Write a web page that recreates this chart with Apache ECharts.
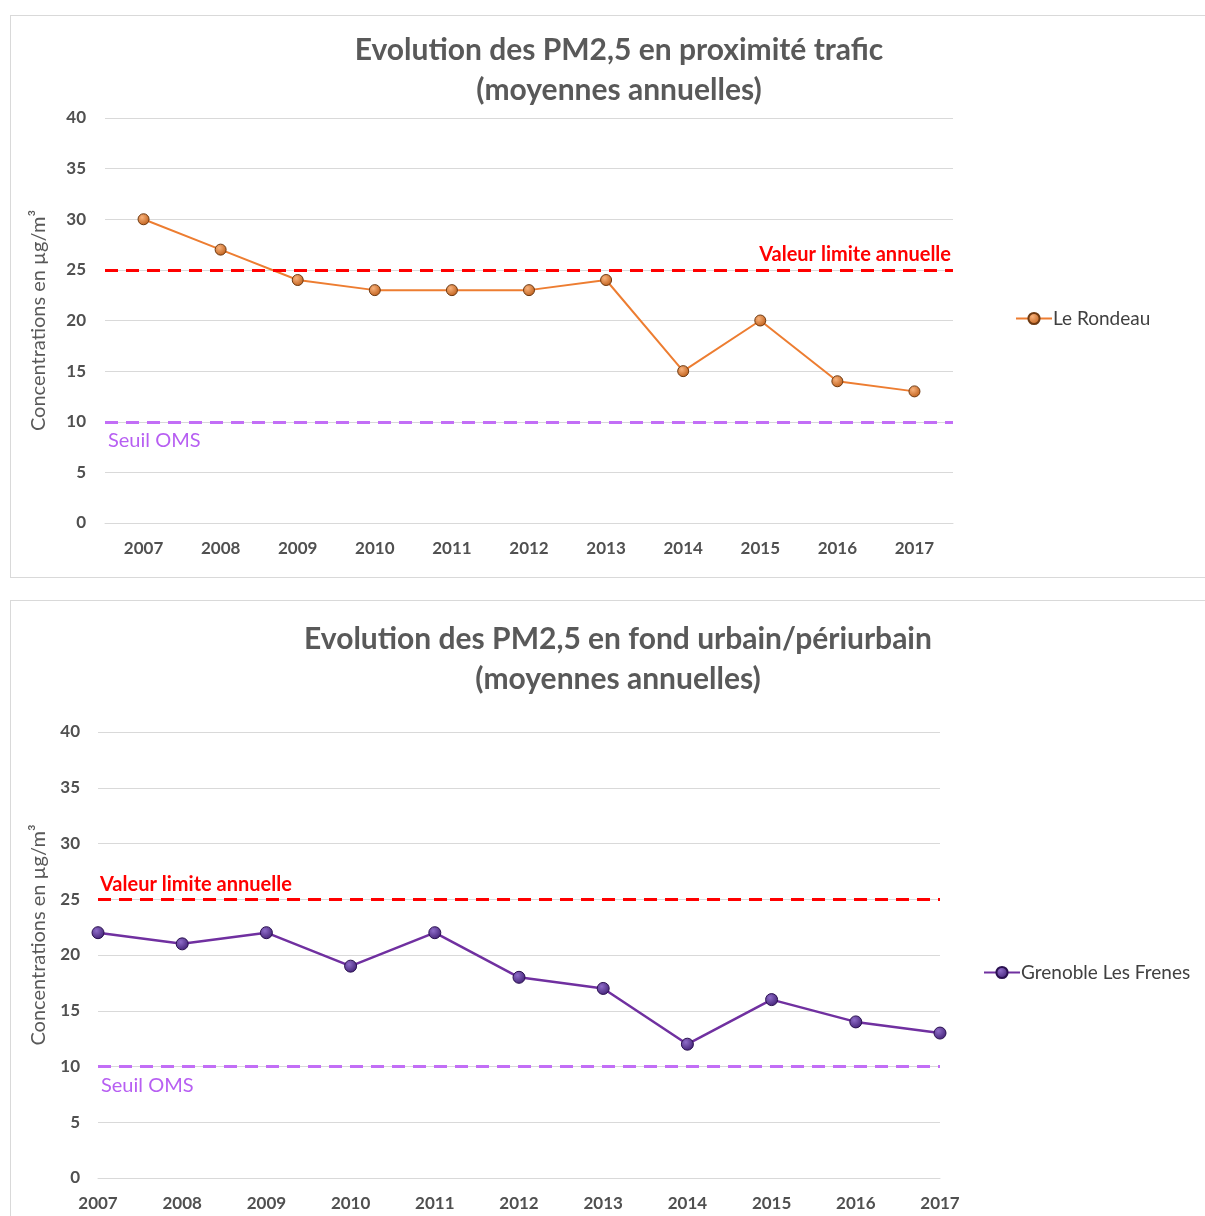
<!DOCTYPE html>
<html>
<head>
<meta charset="utf-8">
<script src="https://cdn.jsdelivr.net/npm/echarts@6/dist/echarts.min.js"></script>
<style>
  html, body { margin: 0; padding: 0; background: #ffffff; overflow: hidden; }
  body { width: 1205px; height: 1216px; position: relative; }
  .panel { position: absolute; box-sizing: border-box; border: 1px solid #d9d9d9; background: #fff; }
  #trafic { left: 10px; top: 15px; width: 1200px; height: 563px; }
  #urbain { left: 10px; top: 600px; width: 1200px; height: 700px; }
</style>
</head>
<body>
<div id="trafic" class="panel"></div>
<div id="urbain" class="panel"></div>
<script>
// Years on the category axis
const years = ['2007', '2008', '2009', '2010', '2011', '2012', '2013', '2014', '2015', '2016', '2017'];

// Annual PM2.5 means (µg/m³)
const rondeauValues = [30, 27, 24, 23, 23, 23, 24, 15, 20, 14, 13];
const frenesValues = [22, 21, 22, 19, 22, 18, 17, 12, 16, 14, 13];

// Reference thresholds (µg/m³)
const limitValue = 25;   // valeur limite annuelle
const whoThreshold = 10; // seuil OMS

// Value axis range
const yMin = 0;
const yMax = 40;
const yStep = 5;

const FONT = 'Lato, "Open Sans", sans-serif';
const TEXT = '#595959';

function buildOption(cfg) {
  return {
    backgroundColor: '#ffffff',
    animation: false,
    title: {
      text: cfg.title,
      left: cfg.titleX,
      top: cfg.titleTop,
      textAlign: 'center',
      textStyle: {
        fontFamily: FONT, fontSize: 30, fontWeight: 'bold',
        color: TEXT, lineHeight: 40, align: 'center'
      }
    },
    legend: {
      left: cfg.legendLeft,
      top: cfg.legendTop,
      orient: 'vertical',
      itemWidth: 36,
      itemHeight: 14,
      textStyle: { fontFamily: FONT, fontSize: 19, color: '#404040', padding: [0, 0, 0, -4] },
      data: [cfg.seriesName]
    },
    grid: {
      left: cfg.grid.left, top: cfg.grid.top,
      width: cfg.grid.width, height: cfg.grid.height
    },
    xAxis: {
      type: 'category',
      data: years,
      boundaryGap: cfg.boundaryGap,
      axisLine: { show: true, lineStyle: { color: '#d9d9d9', width: 1 } },
      axisTick: { show: false },
      axisLabel: {
        fontFamily: FONT, fontSize: 17, fontWeight: 'bold', color: '#505050',
        margin: cfg.xLabelMargin, interval: 0
      }
    },
    yAxis: {
      type: 'value',
      min: yMin, max: yMax, interval: yStep,
      name: 'Concentrations en µg/m³',
      nameLocation: 'middle',
      nameGap: cfg.nameGap,
      nameTextStyle: {
        fontFamily: FONT, fontSize: 20, color: TEXT,
        padding: cfg.namePadding
      },
      axisLine: { show: false },
      axisTick: { show: false },
      axisLabel: {
        fontFamily: FONT, fontSize: 17, fontWeight: 'bold', color: '#505050',
        margin: cfg.yLabelMargin
      },
      splitLine: { lineStyle: { color: '#d9d9d9', width: 1 } }
    },
    series: [{
      name: cfg.seriesName,
      type: 'line',
      data: cfg.values,
      symbol: 'circle',
      symbolSize: cfg.symbolSize,
      lineStyle: { color: cfg.lineColor, width: cfg.lineWidth },
      itemStyle: {
        color: {
          type: 'radial', x: 0.38, y: 0.35, r: 0.75,
          colorStops: [
            { offset: 0, color: cfg.markerLight },
            { offset: 1, color: cfg.markerDark }
          ]
        },
        borderColor: cfg.markerBorder,
        borderWidth: 1
      },
      markLine: {
        silent: true,
        symbol: 'none',
        animation: false,
        data: [
          {
            yAxis: limitValue,
            lineStyle: { color: '#ff0000', type: [13, 8], width: 3 },
            label: {
              show: true,
              formatter: 'Valeur limite annuelle',
              position: cfg.limitLabelPos,
              distance: [2, 5],
              fontFamily: FONT, fontSize: 20, fontWeight: 'bold', color: '#ff0000'
            }
          },
          {
            yAxis: whoThreshold,
            lineStyle: { color: '#c26ef6', type: [13, 8], width: 3 },
            label: {
              show: true,
              formatter: 'Seuil OMS',
              position: 'insideStartBottom',
              distance: [3, 9],
              fontFamily: FONT, fontSize: 20, color: '#b75ff2'
            }
          }
        ]
      }
    }]
  };
}

const traficChart = echarts.init(document.getElementById('trafic'), null, { renderer: 'canvas' });
traficChart.setOption(buildOption({
  title: 'Evolution des PM2,5 en proximité trafic\n(moyennes annuelles)',
  titleX: 603, titleTop: 9,
  seriesName: 'Le Rondeau',
  values: rondeauValues,
  boundaryGap: true,
  grid: { left: 94, top: 102, width: 848, height: 405 },
  legendLeft: 999, legendTop: 288,
  xLabelMargin: 17, yLabelMargin: 19,
  nameGap: 56, namePadding: [0, 0, 0, 0],
  symbolSize: 11,
  lineWidth: 2,
  lineColor: '#ed7d31',
  markerLight: '#f8b27c', markerDark: '#b9560f', markerBorder: '#6e3a12',
  limitLabelPos: 'insideEndTop'
}));

const urbainChart = echarts.init(document.getElementById('urbain'), null, { renderer: 'canvas' });
urbainChart.setOption(buildOption({
  title: 'Evolution des PM2,5 en fond urbain/périurbain\n(moyennes annuelles)',
  titleX: 602, titleTop: 13,
  seriesName: 'Grenoble Les Frenes',
  values: frenesValues,
  boundaryGap: false,
  grid: { left: 87, top: 131, width: 842, height: 446 },
  legendLeft: 967, legendTop: 357,
  xLabelMargin: 17, yLabelMargin: 18,
  nameGap: 49, namePadding: [0, 0, 0, 40],
  symbolSize: 12,
  lineWidth: 2.5,
  lineColor: '#7030a0',
  markerLight: '#8e6cc8', markerDark: '#3b1a6e', markerBorder: '#2a1050',
  limitLabelPos: 'insideStartTop'
}));
</script>
</body>
</html>
